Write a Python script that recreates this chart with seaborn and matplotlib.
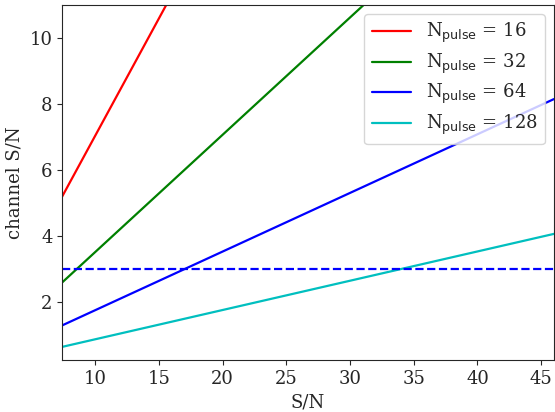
import numpy as np
import matplotlib
matplotlib.use("Agg")
import matplotlib.pyplot as plt
import pandas as pd
import seaborn as sns

# straight lines, two end points each
sn_ends = [7.4, 46.0]
n_pulse = [16, 32, 64, 128]
chan_16 = [5.2, 32.6]
chan_32 = [2.6, 16.3]
chan_64 = [1.3, 8.15]
chan_128 = [0.65, 4.07]
threshold = 3.0

sns.set_style("ticks")
plt.rcParams.update({
    "font.family": "DejaVu Serif",
    "mathtext.fontset": "dejavusans",
    "font.size": 13,
})

rows = []
for n, vals in zip(n_pulse, [chan_16, chan_32, chan_64, chan_128]):
    for x, y in zip(sn_ends, vals):
        rows.append({"S/N": x, "channel S/N": y,
                     "label": r"N$_{\rm pulse}$ = %d" % n})
df = pd.DataFrame(rows)

fig, ax = plt.subplots(figsize=(5.55, 4.12), dpi=100)
fig.subplots_adjust(left=0.112, right=0.998, bottom=0.126, top=0.988)

sns.lineplot(data=df, x="S/N", y="channel S/N", hue="label",
             palette=["r", "g", "b", "c"], linewidth=1.6, ax=ax)
ax.axhline(threshold, color="b", linestyle="--", linewidth=1.6)

ax.set_xlim(sn_ends[0], sn_ends[1])
ax.set_ylim(0.25, 11)
ax.set_xlabel("S/N")
ax.set_ylabel("channel S/N")
ax.legend(loc="upper right", title=None, handlelength=2.2, labelspacing=0.35)

plt.savefig("out.png")
plt.close()
